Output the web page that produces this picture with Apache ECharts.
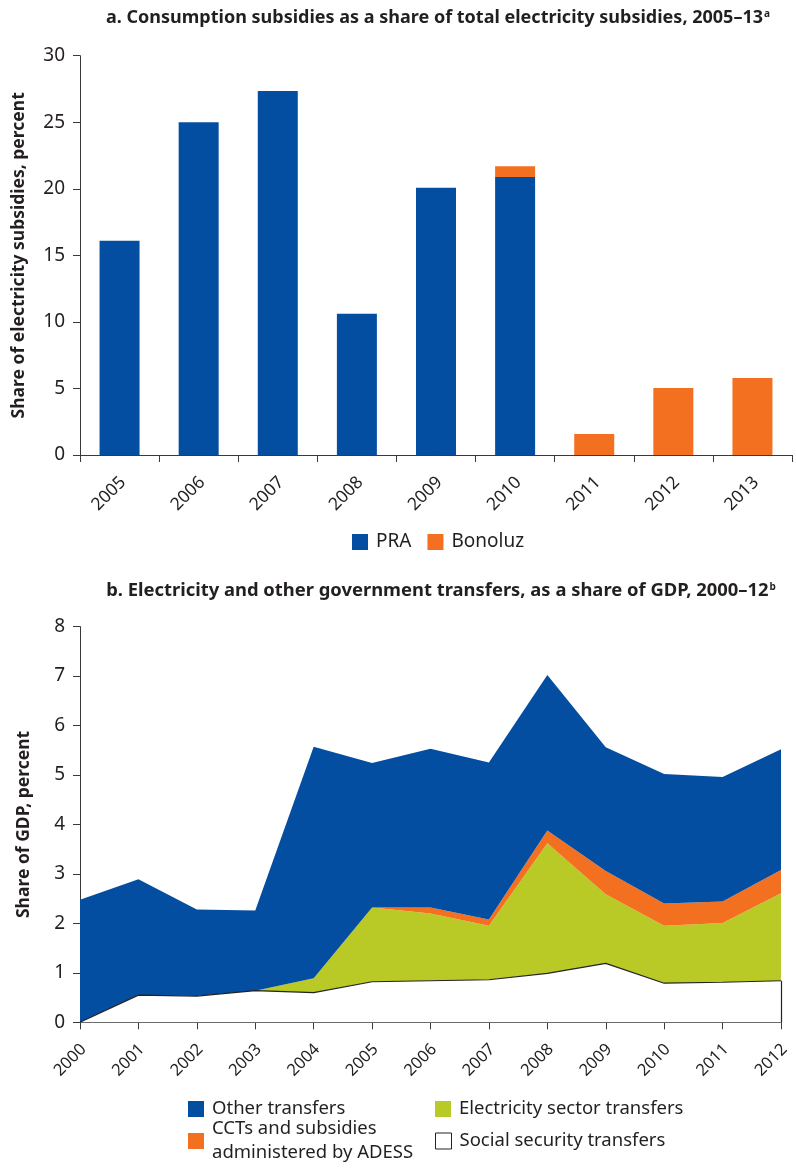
<!DOCTYPE html>
<html>
<head>
<meta charset="utf-8">
<script src="https://cdn.jsdelivr.net/npm/echarts@6/dist/echarts.min.js"></script>
<style>
  html, body { margin: 0; padding: 0; background: #fff; }
  #chart { width: 796px; height: 1176px; }
</style>
</head>
<body>
<div id="chart"></div>
<script>
// Panel a: consumption subsidies as a share of total electricity subsidies
const yearsA = ['2005', '2006', '2007', '2008', '2009', '2010', '2011', '2012', '2013'];
const pra = [16.1, 25.0, 27.35, 10.62, 20.08, 20.89, null, null, null];
const bonoluz = [null, null, null, null, null, 0.8, 1.58, 5.03, 5.78];

// Panel b: transfers as a share of GDP (stacked, bottom to top)
const yearsB = ['2000', '2001', '2002', '2003', '2004', '2005', '2006', '2007', '2008', '2009', '2010', '2011', '2012'];
const socialSecurity = [0, 0.55, 0.53, 0.64, 0.60, 0.82, 0.84, 0.86, 0.99, 1.19, 0.79, 0.81, 0.84];
const electricitySector = [0, 0, 0, 0, 0.29, 1.50, 1.36, 1.09, 2.63, 1.40, 1.16, 1.20, 1.77];
const cctsAdess = [0, 0, 0, 0, 0, 0, 0.12, 0.13, 0.26, 0.47, 0.45, 0.43, 0.47];
const otherTransfers = [2.48, 2.34, 1.75, 1.62, 4.68, 2.92, 3.21, 3.17, 3.14, 2.50, 2.62, 2.52, 2.44];

const BLUE = '#044ea1';
const ORANGE = '#f37021';
const GREEN = '#b9c925';
const INK = '#231f20';
const FONT = 'Noto Sans';

const NAME_OTHER = 'Other transfers';
const NAME_CCT = 'CCTs and subsidies\nadministered by ADESS';
const NAME_ELEC = 'Electricity sector transfers';
const NAME_SOCIAL = 'Social security transfers';

const chart = echarts.init(document.getElementById('chart'), null, { renderer: 'canvas' });

const axisLine = { show: true, lineStyle: { color: '#3a3a3a', width: 1 } };
const axisTick = { show: true, length: 7, lineStyle: { color: '#3a3a3a', width: 1 } };
const supRich = { sup: { fontSize: 10, fontWeight: 'bold', color: INK, fontFamily: FONT, padding: [0, 0, 8, 1] } };
const legendText = { fontFamily: FONT, fontSize: 18.5, color: INK, lineHeight: 24, padding: [0, 0, 0, 3] };

// slanted year labels: an empty leading line drops the text a little below its tick
const slantedYear = (v) => '\n' + v;

// one legend block per entry so the two-column layout can be placed freely
function legendBlock(left, top, name, extra) {
  return Object.assign({
    left, top, padding: 0, itemWidth: 16, itemHeight: 16, icon: 'rect',
    textStyle: legendText, data: [name]
  }, extra || {});
}

const lastIdx = yearsB.length - 1;

chart.setOption({
  animation: false,
  backgroundColor: '#fff',
  textStyle: { fontFamily: FONT, color: INK },
  title: [
    {
      text: 'a. Consumption subsidies as a share of total electricity subsidies, 2005–13{sup|a}',
      left: 433, top: 4, textAlign: 'center',
      textStyle: { fontFamily: FONT, fontWeight: 'bold', fontSize: 18, color: INK, rich: supRich }
    },
    {
      text: 'b. Electricity and other government transfers, as a share of GDP, 2000–12{sup|b}',
      left: 436, top: 577, textAlign: 'center',
      textStyle: { fontFamily: FONT, fontWeight: 'bold', fontSize: 18.4, color: INK, rich: supRich }
    }
  ],
  legend: [
    {
      left: 352, top: 530, padding: 0, itemWidth: 16, itemHeight: 16, itemGap: 16, icon: 'rect',
      textStyle: { fontFamily: FONT, fontSize: 19, color: INK, lineHeight: 24, padding: [0, 0, 0, 3] },
      data: ['PRA', 'Bonoluz']
    },
    legendBlock(188, 1097, NAME_OTHER),
    legendBlock(188, 1105, NAME_CCT, {
      data: [{ name: NAME_CCT, textStyle: Object.assign({}, legendText, { padding: [24, 0, 0, 3] }) }]
    }),
    legendBlock(435, 1097, NAME_ELEC),
    legendBlock(435, 1129, NAME_SOCIAL, {
      data: [{ name: NAME_SOCIAL, itemStyle: { color: '#fff', borderColor: '#222', borderWidth: 1 } }]
    })
  ],
  grid: [
    { left: 80, right: 4, top: 55.7, height: 399.3, containLabel: false, outerBoundsMode: 'none' },
    { left: 80, right: 15, top: 626.6, height: 395.7, containLabel: false, outerBoundsMode: 'none' }
  ],
  xAxis: [
    {
      type: 'category', gridIndex: 0, data: yearsA, boundaryGap: true,
      axisLine, axisTick,
      axisLabel: {
        rotate: 45, fontSize: 17.5, lineHeight: 10, color: INK, fontFamily: FONT,
        margin: 21, interval: 0, formatter: slantedYear
      }
    },
    {
      type: 'category', gridIndex: 1, data: yearsB, boundaryGap: false,
      axisLine, axisTick,
      axisLabel: {
        rotate: 45, fontSize: 16.5, lineHeight: 10, color: INK, fontFamily: FONT,
        margin: 21, interval: 0, formatter: slantedYear
      }
    }
  ],
  yAxis: [
    {
      type: 'value', gridIndex: 0, min: 0, max: 30, interval: 5,
      name: 'Share of electricity subsidies, percent', nameLocation: 'middle', nameGap: 52,
      nameTextStyle: { fontFamily: FONT, fontWeight: 'bold', fontSize: 17.5, color: INK },
      axisLine, axisTick,
      axisLabel: { fontSize: 19, color: INK, fontFamily: FONT, margin: 15 },
      splitLine: { show: false }
    },
    {
      type: 'value', gridIndex: 1, min: 0, max: 8, interval: 1,
      name: 'Share of GDP, percent', nameLocation: 'middle', nameGap: 47,
      nameTextStyle: { fontFamily: FONT, fontWeight: 'bold', fontSize: 17.5, color: INK },
      axisLine, axisTick,
      axisLabel: { fontSize: 19, color: INK, fontFamily: FONT, margin: 15 },
      splitLine: { show: false }
    }
  ],
  series: [
    {
      name: 'PRA', type: 'bar', xAxisIndex: 0, yAxisIndex: 0, stack: 'a', barWidth: 40,
      itemStyle: { color: BLUE }, data: pra
    },
    {
      name: 'Bonoluz', type: 'bar', xAxisIndex: 0, yAxisIndex: 0, stack: 'a', barWidth: 40,
      itemStyle: { color: ORANGE }, data: bonoluz
    },
    {
      name: NAME_SOCIAL, type: 'line', xAxisIndex: 1, yAxisIndex: 1, stack: 'b',
      showSymbol: false, symbol: 'none',
      lineStyle: { color: '#222', width: 1.2 },
      itemStyle: { color: '#fff', borderColor: '#222', borderWidth: 1 },
      areaStyle: { color: '#fff', opacity: 1 },
      data: socialSecurity,
      markLine: {
        silent: true, symbol: 'none', label: { show: false },
        lineStyle: { color: '#222', width: 1.2, type: 'solid' },
        data: [[
          { coord: [yearsB[lastIdx], 0] },
          { coord: [yearsB[lastIdx], socialSecurity[lastIdx]] }
        ]]
      },
      z: 3
    },
    {
      name: NAME_ELEC, type: 'line', xAxisIndex: 1, yAxisIndex: 1, stack: 'b',
      showSymbol: false, symbol: 'none',
      lineStyle: { width: 0, color: GREEN },
      itemStyle: { color: GREEN },
      areaStyle: { color: GREEN, opacity: 1 },
      data: electricitySector, z: 2
    },
    {
      name: NAME_CCT, type: 'line', xAxisIndex: 1, yAxisIndex: 1, stack: 'b',
      showSymbol: false, symbol: 'none',
      lineStyle: { width: 0, color: ORANGE },
      itemStyle: { color: ORANGE },
      areaStyle: { color: ORANGE, opacity: 1 },
      data: cctsAdess, z: 2
    },
    {
      name: NAME_OTHER, type: 'line', xAxisIndex: 1, yAxisIndex: 1, stack: 'b',
      showSymbol: false, symbol: 'none',
      lineStyle: { width: 0, color: BLUE },
      itemStyle: { color: BLUE },
      areaStyle: { color: BLUE, opacity: 1 },
      data: otherTransfers, z: 2
    }
  ]
});
</script>
</body>
</html>
